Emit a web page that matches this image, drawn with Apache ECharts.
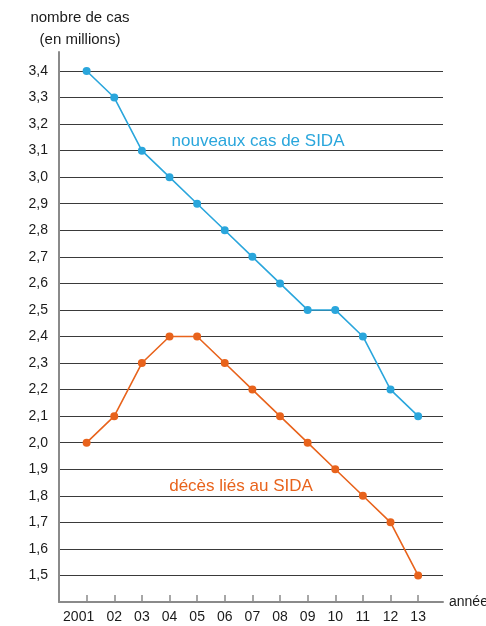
<!DOCTYPE html>
<html>
<head>
<meta charset="utf-8">
<script src="https://cdn.jsdelivr.net/npm/echarts@6/dist/echarts.min.js"></script>
<style>
html,body{margin:0;padding:0;background:#fff;}
#c{width:486px;height:626px;}
</style>
</head>
<body>
<div id="c"></div>
<script>
const years = [2001,2002,2003,2004,2005,2006,2007,2008,2009,2010,2011,2012,2013];
const yearLabels = ['2001','02','03','04','05','06','07','08','09','10','11','12','13'];
const newCases = [3.4,3.3,3.1,3.0,2.9,2.8,2.7,2.6,2.5,2.5,2.4,2.2,2.1];
const deaths = [2.0,2.1,2.3,2.4,2.4,2.3,2.2,2.1,2.0,1.9,1.8,1.7,1.5];
const seriesNames = ['nouveaux cas de SIDA','décès liés au SIDA'];
const yTitle = 'nombre de cas\n(en millions)';
const xName = 'années';

const FONT = '"Liberation Sans", Arial, Helvetica, sans-serif';
const BLUE = '#2aa6dc';
const ORANGE = '#e8631c';

const chart = echarts.init(document.getElementById('c'));
chart.setOption({
  animation:false,
  grid:{left:59,right:43,top:52,bottom:24,containLabel:false,outerBoundsMode:'none'},
  xAxis:{
    type:'value', min:2000, max:2013.9, interval:1,
    name:xName, nameLocation:'end', nameGap:6,
    nameTextStyle:{color:'#1a1a1a',fontFamily:FONT,fontSize:14,verticalAlign:'middle'},
    axisLine:{lineStyle:{color:'#8a8a8a',width:2}},
    axisTick:{show:true,inside:true,length:7,lineStyle:{color:'#8a8a8a',width:1.5},customValues:years},
    axisLabel:{customValues:years,margin:8,color:'#1a1a1a',fontFamily:FONT,fontSize:14,
      rich:{first:{padding:[0,16,0,0],color:'#1a1a1a',fontFamily:FONT,fontSize:14}},
      formatter:function(v){const i=years.indexOf(Math.round(v));if(i<0)return '';return i===0?'{first|'+yearLabels[i]+'}':yearLabels[i];}},
    splitLine:{show:false}
  },
  yAxis:{
    type:'value', min:1.4, max:3.4715, interval:0.1,
    axisLine:{show:true,lineStyle:{color:'#8a8a8a',width:2}},
    axisTick:{show:false},
    axisLabel:{showMinLabel:false,showMaxLabel:false,margin:11,color:'#1a1a1a',fontFamily:FONT,fontSize:14,
      formatter:function(v){return v.toFixed(1).replace('.',',');}},
    splitLine:{show:true,showMinLine:false,showMaxLine:false,lineStyle:{color:'#3a3a3a',width:1}}
  },
  graphic:[
    {type:'text',x:80,y:7,style:{text:yTitle,textAlign:'center',fill:'#1a1a1a',font:'15px '+FONT,lineHeight:22}},
    {type:'text',x:258,y:141,style:{text:seriesNames[0],textAlign:'center',textVerticalAlign:'middle',fill:BLUE,font:'17px '+FONT}},
    {type:'text',x:241,y:486,style:{text:seriesNames[1],textAlign:'center',textVerticalAlign:'middle',fill:ORANGE,font:'17px '+FONT}}
  ],
  series:[
    {name:seriesNames[0],type:'line',data:years.map((y,i)=>[y,newCases[i]]),
      symbol:'circle',symbolSize:8,itemStyle:{color:BLUE},lineStyle:{color:BLUE,width:1.6}},
    {name:seriesNames[1],type:'line',data:years.map((y,i)=>[y,deaths[i]]),
      symbol:'circle',symbolSize:8,itemStyle:{color:ORANGE},lineStyle:{color:ORANGE,width:1.6}}
  ]
});
</script>
</body>
</html>
